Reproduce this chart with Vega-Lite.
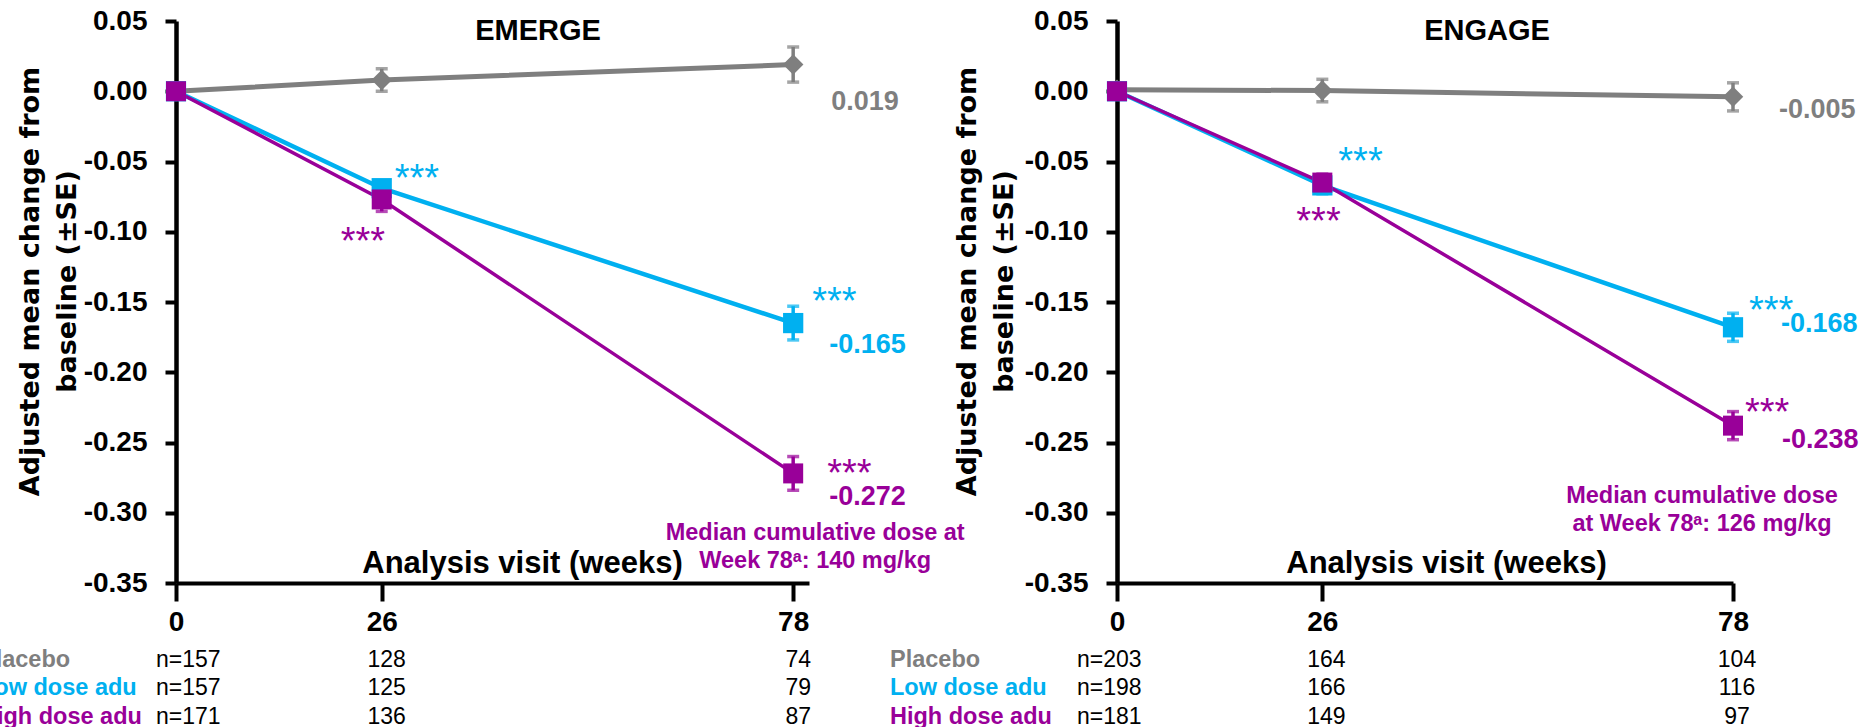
{
  "$schema": "https://vega.github.io/schema/vega-lite/v6.json",
  "background": "white",
  "padding": {"left": -20, "top": 7, "right": 0, "bottom": 0},
  "autosize": {"type": "pad"},
  "config": {"view": {"stroke": null}, "axis": {"grid": false}},
  "spacing": 308,
  "bounds": "flush",
  "datasets": {
    "emerge": [
      {"group": "Placebo", "week": 0, "mean": 0, "se": 0, "nlab": "n=157", "vlab": "", "sig": ""},
      {"group": "Placebo", "week": 26, "mean": 0.008, "se": 0.008, "nlab": "128", "vlab": "", "sig": ""},
      {"group": "Placebo", "week": 78, "mean": 0.019, "se": 0.0125, "nlab": "74", "vlab": "0.019", "sig": ""},
      {"group": "Low dose adu", "week": 0, "mean": 0, "se": 0, "nlab": "n=157", "vlab": "", "sig": ""},
      {"group": "Low dose adu", "week": 26, "mean": -0.069, "se": 0.005, "nlab": "125", "vlab": "", "sig": "***"},
      {"group": "Low dose adu", "week": 78, "mean": -0.165, "se": 0.012, "nlab": "79", "vlab": "-0.165", "sig": "***"},
      {"group": "High dose adu", "week": 0, "mean": 0, "se": 0, "nlab": "n=171", "vlab": "", "sig": ""},
      {"group": "High dose adu", "week": 26, "mean": -0.077, "se": 0.0085, "nlab": "136", "vlab": "", "sig": "***"},
      {"group": "High dose adu", "week": 78, "mean": -0.272, "se": 0.012, "nlab": "87", "vlab": "-0.272", "sig": "***"}
    ],
    "engage": [
      {"group": "Placebo", "week": 0, "mean": 0.001, "se": 0, "nlab": "n=203", "vlab": "", "sig": ""},
      {"group": "Placebo", "week": 26, "mean": 0.0005, "se": 0.008, "nlab": "164", "vlab": "", "sig": ""},
      {"group": "Placebo", "week": 78, "mean": -0.004, "se": 0.01, "nlab": "104", "vlab": "-0.005", "sig": ""},
      {"group": "Low dose adu", "week": 0, "mean": 0, "se": 0, "nlab": "n=198", "vlab": "", "sig": ""},
      {"group": "Low dose adu", "week": 26, "mean": -0.067, "se": 0.006, "nlab": "166", "vlab": "", "sig": "***"},
      {"group": "Low dose adu", "week": 78, "mean": -0.168, "se": 0.01, "nlab": "116", "vlab": "-0.168", "sig": "***"},
      {"group": "High dose adu", "week": 0, "mean": 0, "se": 0, "nlab": "n=181", "vlab": "", "sig": ""},
      {"group": "High dose adu", "week": 26, "mean": -0.065, "se": 0.006, "nlab": "149", "vlab": "", "sig": "***"},
      {"group": "High dose adu", "week": 78, "mean": -0.238, "se": 0.01, "nlab": "97", "vlab": "-0.238", "sig": "***"}
    ]
  },
  "hconcat": [
    {
      "width": 633,
      "height": 562,
      "data": {"name": "emerge"},
      "encoding": {
        "x": {"field": "week", "type": "quantitative", "scale": {"domain": [0, 80], "nice": false, "zero": false},
          "axis": {"values": [0, 26, 78], "format": "d", "title": "Analysis visit (weeks)", "titleFont": "Liberation Sans, Arial, sans-serif", "titleFontWeight": "bold", "titleFontSize": 31, "titleColor": "#000000", "titleX": 346, "titleY": -11, "titleAlign": "center", "titleBaseline": "alphabetic",
            "labelFont": "Liberation Sans, Arial, sans-serif", "labelFontWeight": "bold", "labelFontSize": 28, "labelColor": "#000000", "labelPadding": 7, "labelDx": 7, "labelFlush": false, "labelOverlap": false,
            "tickSize": 18, "tickWidth": 4, "tickColor": "#000000", "domainWidth": 4, "domainColor": "#000000", "grid": false}},
        "y": {"field": "mean", "type": "quantitative", "scale": {"domain": [-0.35, 0.05], "nice": false, "zero": false},
          "axis": {"values": [0.05, 0, -0.05, -0.1, -0.15, -0.2, -0.25, -0.3, -0.35], "labelExpr": "datum.value < 0 ? '-' + format(-datum.value, '.2f') : format(datum.value, '.2f')",
            "title": ["Adjusted mean change from", "baseline (±SE)"], "titleFont": "DejaVu Sans", "titleFontWeight": "bold", "titleFontSize": 27, "titleLineHeight": 37, "titleColor": "#000000", "titleAngle": 270, "titleAlign": "center", "titleBaseline": "top", "titleX": -159, "titleY": 260,
            "labelFont": "Liberation Sans, Arial, sans-serif", "labelFontWeight": "bold", "labelFontSize": 28, "labelColor": "#000000", "labelPadding": 18, "labelFlush": false, "labelOverlap": false,
            "tickSize": 11, "tickWidth": 4, "tickColor": "#000000", "domainWidth": 4.5, "domainColor": "#000000", "grid": false}},
        "color": {"field": "group", "type": "nominal", "scale": {"domain": ["Placebo", "Low dose adu", "High dose adu"], "range": ["#7f7f7f", "#00b0f0", "#990099"]}, "legend": null}
      },
      "layer": [
        {"transform": [{"filter": "datum.group == 'Placebo'"}], "mark": {"type": "line", "strokeWidth": 5}},
        {"transform": [{"filter": "datum.group == 'Low dose adu'"}], "mark": {"type": "line", "strokeWidth": 4.5}},
        {"transform": [{"filter": "datum.group == 'High dose adu'"}], "mark": {"type": "line", "strokeWidth": 3.5}},
        {"transform": [{"filter": "datum.se > 0"}], "mark": {"type": "errorbar", "ticks": true, "size": 12, "thickness": 3.5}, "encoding": {"yError": {"field": "se"}}},
        {"mark": {"type": "point", "filled": true, "opacity": 1},
          "encoding": {
            "shape": {"field": "group", "type": "nominal", "scale": {"domain": ["Placebo", "Low dose adu", "High dose adu"], "range": ["diamond", "square", "square"]}, "legend": null},
            "size": {"field": "group", "type": "nominal", "scale": {"domain": ["Placebo", "Low dose adu", "High dose adu"], "range": [420, 400, 484]}, "legend": null}}},
        {"transform": [{"filter": "datum.group == 'Placebo' && datum.week == 78"}], "mark": {"type": "text", "align": "left", "baseline": "alphabetic", "dx": 38, "dy": 45, "font": "Liberation Sans, Arial, sans-serif", "fontSize": 27, "fontWeight": "bold"}, "encoding": {"text": {"field": "vlab"}}},
        {"transform": [{"filter": "datum.group == 'Low dose adu' && datum.week == 78"}], "mark": {"type": "text", "align": "left", "baseline": "alphabetic", "dx": 36, "dy": 30, "font": "Liberation Sans, Arial, sans-serif", "fontSize": 27, "fontWeight": "bold"}, "encoding": {"text": {"field": "vlab"}}},
        {"transform": [{"filter": "datum.group == 'High dose adu' && datum.week == 78"}], "mark": {"type": "text", "align": "left", "baseline": "alphabetic", "dx": 36, "dy": 32, "font": "Liberation Sans, Arial, sans-serif", "fontSize": 27, "fontWeight": "bold"}, "encoding": {"text": {"field": "vlab"}}},
        {"transform": [{"filter": "datum.group == 'Low dose adu' && datum.week == 26"}], "mark": {"type": "text", "align": "left", "baseline": "alphabetic", "dx": 13, "dy": 3, "font": "Liberation Sans, Arial, sans-serif", "fontSize": 38}, "encoding": {"text": {"field": "sig"}}},
        {"transform": [{"filter": "datum.group == 'High dose adu' && datum.week == 26"}], "mark": {"type": "text", "align": "left", "baseline": "alphabetic", "dx": -41, "dy": 55, "font": "Liberation Sans, Arial, sans-serif", "fontSize": 38}, "encoding": {"text": {"field": "sig"}}},
        {"transform": [{"filter": "datum.group == 'Low dose adu' && datum.week == 78"}], "mark": {"type": "text", "align": "left", "baseline": "alphabetic", "dx": 19, "dy": -9, "font": "Liberation Sans, Arial, sans-serif", "fontSize": 38}, "encoding": {"text": {"field": "sig"}}},
        {"transform": [{"filter": "datum.group == 'High dose adu' && datum.week == 78"}], "mark": {"type": "text", "align": "left", "baseline": "alphabetic", "dx": 34, "dy": 13, "font": "Liberation Sans, Arial, sans-serif", "fontSize": 38}, "encoding": {"text": {"field": "sig"}}},
        {"transform": [{"filter": "datum.group == 'Placebo' && datum.week == 0"}], "mark": {"type": "text", "align": "center", "baseline": "alphabetic", "font": "Liberation Sans, Arial, sans-serif", "fontSize": 29, "fontWeight": "bold"},
          "encoding": {"x": {"datum": 45.75}, "y": {"datum": 0.0365}, "text": {"value": "EMERGE"}, "color": {"value": "#000000"}}},
        {"transform": [{"filter": "datum.group == 'High dose adu' && datum.week == 78"}], "mark": {"type": "text", "align": "center", "baseline": "alphabetic", "lineHeight": 28, "dx": 22, "dy": 67, "font": "Liberation Sans, DejaVu Sans, sans-serif", "fontSize": 23.5, "fontWeight": "bold"},
          "encoding": {"text": {"value": ["Median cumulative dose at", "Week 78ᵃ: 140 mg/kg"]}}},
        {"transform": [{"filter": "datum.week == 0 && datum.group == 'Placebo'"}], "mark": {"type": "text", "align": "left", "baseline": "alphabetic", "dx": -196, "font": "Liberation Sans, Arial, sans-serif", "fontSize": 23.5, "fontWeight": "bold"}, "encoding": {"y": {"datum": -0.4098}, "text": {"field": "group"}}},
        {"transform": [{"filter": "datum.week == 0 && datum.group == 'Low dose adu'"}], "mark": {"type": "text", "align": "left", "baseline": "alphabetic", "dx": -196, "font": "Liberation Sans, Arial, sans-serif", "fontSize": 23.5, "fontWeight": "bold"}, "encoding": {"y": {"datum": -0.4297}, "text": {"field": "group"}}},
        {"transform": [{"filter": "datum.week == 0 && datum.group == 'High dose adu'"}], "mark": {"type": "text", "align": "left", "baseline": "alphabetic", "dx": -196, "font": "Liberation Sans, Arial, sans-serif", "fontSize": 23.5, "fontWeight": "bold"}, "encoding": {"y": {"datum": -0.4504}, "text": {"field": "group"}}},
        {"transform": [{"filter": "datum.week == 0 && datum.group == 'Placebo'"}], "mark": {"type": "text", "align": "left", "baseline": "alphabetic", "dx": -20, "font": "Liberation Sans, Arial, sans-serif", "fontSize": 23}, "encoding": {"y": {"datum": -0.4098}, "text": {"field": "nlab"}, "color": {"value": "#000000"}}},
        {"transform": [{"filter": "datum.week == 0 && datum.group == 'Low dose adu'"}], "mark": {"type": "text", "align": "left", "baseline": "alphabetic", "dx": -20, "font": "Liberation Sans, Arial, sans-serif", "fontSize": 23}, "encoding": {"y": {"datum": -0.4297}, "text": {"field": "nlab"}, "color": {"value": "#000000"}}},
        {"transform": [{"filter": "datum.week == 0 && datum.group == 'High dose adu'"}], "mark": {"type": "text", "align": "left", "baseline": "alphabetic", "dx": -20, "font": "Liberation Sans, Arial, sans-serif", "fontSize": 23}, "encoding": {"y": {"datum": -0.4504}, "text": {"field": "nlab"}, "color": {"value": "#000000"}}},
        {"transform": [{"filter": "datum.week > 0 && datum.group == 'Placebo'"}], "mark": {"type": "text", "align": "center", "baseline": "alphabetic", "dx": 5, "font": "Liberation Sans, Arial, sans-serif", "fontSize": 23}, "encoding": {"y": {"datum": -0.4098}, "text": {"field": "nlab"}, "color": {"value": "#000000"}}},
        {"transform": [{"filter": "datum.week > 0 && datum.group == 'Low dose adu'"}], "mark": {"type": "text", "align": "center", "baseline": "alphabetic", "dx": 5, "font": "Liberation Sans, Arial, sans-serif", "fontSize": 23}, "encoding": {"y": {"datum": -0.4297}, "text": {"field": "nlab"}, "color": {"value": "#000000"}}},
        {"transform": [{"filter": "datum.week > 0 && datum.group == 'High dose adu'"}], "mark": {"type": "text", "align": "center", "baseline": "alphabetic", "dx": 5, "font": "Liberation Sans, Arial, sans-serif", "fontSize": 23}, "encoding": {"y": {"datum": -0.4504}, "text": {"field": "nlab"}, "color": {"value": "#000000"}}}
      ]
    },
    {
      "width": 616,
      "height": 562,
      "data": {"name": "engage"},
      "encoding": {
        "x": {"field": "week", "type": "quantitative", "scale": {"domain": [0, 78], "nice": false, "zero": false},
          "axis": {"values": [0, 26, 78], "format": "d", "title": "Analysis visit (weeks)", "titleFont": "Liberation Sans, Arial, sans-serif", "titleFontWeight": "bold", "titleFontSize": 31, "titleColor": "#000000", "titleX": 329, "titleY": -11, "titleAlign": "center", "titleBaseline": "alphabetic",
            "labelFont": "Liberation Sans, Arial, sans-serif", "labelFontWeight": "bold", "labelFontSize": 28, "labelColor": "#000000", "labelPadding": 7, "labelDx": 7, "labelFlush": false, "labelOverlap": false,
            "tickSize": 18, "tickWidth": 4, "tickColor": "#000000", "domainWidth": 4, "domainColor": "#000000", "grid": false}},
        "y": {"field": "mean", "type": "quantitative", "scale": {"domain": [-0.35, 0.05], "nice": false, "zero": false},
          "axis": {"values": [0.05, 0, -0.05, -0.1, -0.15, -0.2, -0.25, -0.3, -0.35], "labelExpr": "datum.value < 0 ? '-' + format(-datum.value, '.2f') : format(datum.value, '.2f')",
            "title": ["Adjusted mean change from", "baseline (±SE)"], "titleFont": "DejaVu Sans", "titleFontWeight": "bold", "titleFontSize": 27, "titleLineHeight": 37, "titleColor": "#000000", "titleAngle": 270, "titleAlign": "center", "titleBaseline": "top", "titleX": -163, "titleY": 260,
            "labelFont": "Liberation Sans, Arial, sans-serif", "labelFontWeight": "bold", "labelFontSize": 28, "labelColor": "#000000", "labelPadding": 18, "labelFlush": false, "labelOverlap": false,
            "tickSize": 11, "tickWidth": 4, "tickColor": "#000000", "domainWidth": 4.5, "domainColor": "#000000", "grid": false}},
        "color": {"field": "group", "type": "nominal", "scale": {"domain": ["Placebo", "Low dose adu", "High dose adu"], "range": ["#7f7f7f", "#00b0f0", "#990099"]}, "legend": null}
      },
      "layer": [
        {"transform": [{"filter": "datum.group == 'Placebo'"}], "mark": {"type": "line", "strokeWidth": 5}},
        {"transform": [{"filter": "datum.group == 'Low dose adu'"}], "mark": {"type": "line", "strokeWidth": 4.5}},
        {"transform": [{"filter": "datum.group == 'High dose adu'"}], "mark": {"type": "line", "strokeWidth": 3.5}},
        {"transform": [{"filter": "datum.se > 0"}], "mark": {"type": "errorbar", "ticks": true, "size": 12, "thickness": 3.5}, "encoding": {"yError": {"field": "se"}}},
        {"mark": {"type": "point", "filled": true, "opacity": 1},
          "encoding": {
            "shape": {"field": "group", "type": "nominal", "scale": {"domain": ["Placebo", "Low dose adu", "High dose adu"], "range": ["diamond", "square", "square"]}, "legend": null},
            "size": {"field": "group", "type": "nominal", "scale": {"domain": ["Placebo", "Low dose adu", "High dose adu"], "range": [420, 400, 484]}, "legend": null}}},
        {"transform": [{"filter": "datum.group == 'Placebo' && datum.week == 78"}], "mark": {"type": "text", "align": "left", "baseline": "alphabetic", "dx": 46, "dy": 21, "font": "Liberation Sans, Arial, sans-serif", "fontSize": 27, "fontWeight": "bold"}, "encoding": {"text": {"field": "vlab"}}},
        {"transform": [{"filter": "datum.group == 'Low dose adu' && datum.week == 78"}], "mark": {"type": "text", "align": "left", "baseline": "alphabetic", "dx": 48, "dy": 5, "font": "Liberation Sans, Arial, sans-serif", "fontSize": 27, "fontWeight": "bold"}, "encoding": {"text": {"field": "vlab"}}},
        {"transform": [{"filter": "datum.group == 'High dose adu' && datum.week == 78"}], "mark": {"type": "text", "align": "left", "baseline": "alphabetic", "dx": 49, "dy": 22, "font": "Liberation Sans, Arial, sans-serif", "fontSize": 27, "fontWeight": "bold"}, "encoding": {"text": {"field": "vlab"}}},
        {"transform": [{"filter": "datum.group == 'Low dose adu' && datum.week == 26"}], "mark": {"type": "text", "align": "left", "baseline": "alphabetic", "dx": 16, "dy": -11, "font": "Liberation Sans, Arial, sans-serif", "fontSize": 38}, "encoding": {"text": {"field": "sig"}}},
        {"transform": [{"filter": "datum.group == 'High dose adu' && datum.week == 26"}], "mark": {"type": "text", "align": "left", "baseline": "alphabetic", "dx": -26, "dy": 51, "font": "Liberation Sans, Arial, sans-serif", "fontSize": 38}, "encoding": {"text": {"field": "sig"}}},
        {"transform": [{"filter": "datum.group == 'Low dose adu' && datum.week == 78"}], "mark": {"type": "text", "align": "left", "baseline": "alphabetic", "dx": 16, "dy": -4, "font": "Liberation Sans, Arial, sans-serif", "fontSize": 38}, "encoding": {"text": {"field": "sig"}}},
        {"transform": [{"filter": "datum.group == 'High dose adu' && datum.week == 78"}], "mark": {"type": "text", "align": "left", "baseline": "alphabetic", "dx": 12, "dy": -1, "font": "Liberation Sans, Arial, sans-serif", "fontSize": 38}, "encoding": {"text": {"field": "sig"}}},
        {"transform": [{"filter": "datum.group == 'Placebo' && datum.week == 0"}], "mark": {"type": "text", "align": "center", "baseline": "alphabetic", "font": "Liberation Sans, Arial, sans-serif", "fontSize": 29, "fontWeight": "bold"},
          "encoding": {"x": {"datum": 46.85}, "y": {"datum": 0.0365}, "text": {"value": "ENGAGE"}, "color": {"value": "#000000"}}},
        {"transform": [{"filter": "datum.group == 'High dose adu' && datum.week == 78"}], "mark": {"type": "text", "align": "center", "baseline": "alphabetic", "lineHeight": 28, "dx": -31, "dy": 77, "font": "Liberation Sans, DejaVu Sans, sans-serif", "fontSize": 23.5, "fontWeight": "bold"},
          "encoding": {"text": {"value": ["Median cumulative dose", "at Week 78ᵃ: 126 mg/kg"]}}},
        {"transform": [{"filter": "datum.week == 0 && datum.group == 'Placebo'"}], "mark": {"type": "text", "align": "left", "baseline": "alphabetic", "dx": -227, "font": "Liberation Sans, Arial, sans-serif", "fontSize": 23.5, "fontWeight": "bold"}, "encoding": {"y": {"datum": -0.4098}, "text": {"field": "group"}}},
        {"transform": [{"filter": "datum.week == 0 && datum.group == 'Low dose adu'"}], "mark": {"type": "text", "align": "left", "baseline": "alphabetic", "dx": -227, "font": "Liberation Sans, Arial, sans-serif", "fontSize": 23.5, "fontWeight": "bold"}, "encoding": {"y": {"datum": -0.4297}, "text": {"field": "group"}}},
        {"transform": [{"filter": "datum.week == 0 && datum.group == 'High dose adu'"}], "mark": {"type": "text", "align": "left", "baseline": "alphabetic", "dx": -227, "font": "Liberation Sans, Arial, sans-serif", "fontSize": 23.5, "fontWeight": "bold"}, "encoding": {"y": {"datum": -0.4504}, "text": {"field": "group"}}},
        {"transform": [{"filter": "datum.week == 0 && datum.group == 'Placebo'"}], "mark": {"type": "text", "align": "left", "baseline": "alphabetic", "dx": -40, "font": "Liberation Sans, Arial, sans-serif", "fontSize": 23}, "encoding": {"y": {"datum": -0.4098}, "text": {"field": "nlab"}, "color": {"value": "#000000"}}},
        {"transform": [{"filter": "datum.week == 0 && datum.group == 'Low dose adu'"}], "mark": {"type": "text", "align": "left", "baseline": "alphabetic", "dx": -40, "font": "Liberation Sans, Arial, sans-serif", "fontSize": 23}, "encoding": {"y": {"datum": -0.4297}, "text": {"field": "nlab"}, "color": {"value": "#000000"}}},
        {"transform": [{"filter": "datum.week == 0 && datum.group == 'High dose adu'"}], "mark": {"type": "text", "align": "left", "baseline": "alphabetic", "dx": -40, "font": "Liberation Sans, Arial, sans-serif", "fontSize": 23}, "encoding": {"y": {"datum": -0.4504}, "text": {"field": "nlab"}, "color": {"value": "#000000"}}},
        {"transform": [{"filter": "datum.week > 0 && datum.group == 'Placebo'"}], "mark": {"type": "text", "align": "center", "baseline": "alphabetic", "dx": 4, "font": "Liberation Sans, Arial, sans-serif", "fontSize": 23}, "encoding": {"y": {"datum": -0.4098}, "text": {"field": "nlab"}, "color": {"value": "#000000"}}},
        {"transform": [{"filter": "datum.week > 0 && datum.group == 'Low dose adu'"}], "mark": {"type": "text", "align": "center", "baseline": "alphabetic", "dx": 4, "font": "Liberation Sans, Arial, sans-serif", "fontSize": 23}, "encoding": {"y": {"datum": -0.4297}, "text": {"field": "nlab"}, "color": {"value": "#000000"}}},
        {"transform": [{"filter": "datum.week > 0 && datum.group == 'High dose adu'"}], "mark": {"type": "text", "align": "center", "baseline": "alphabetic", "dx": 4, "font": "Liberation Sans, Arial, sans-serif", "fontSize": 23}, "encoding": {"y": {"datum": -0.4504}, "text": {"field": "nlab"}, "color": {"value": "#000000"}}}
      ]
    }
  ]
}
